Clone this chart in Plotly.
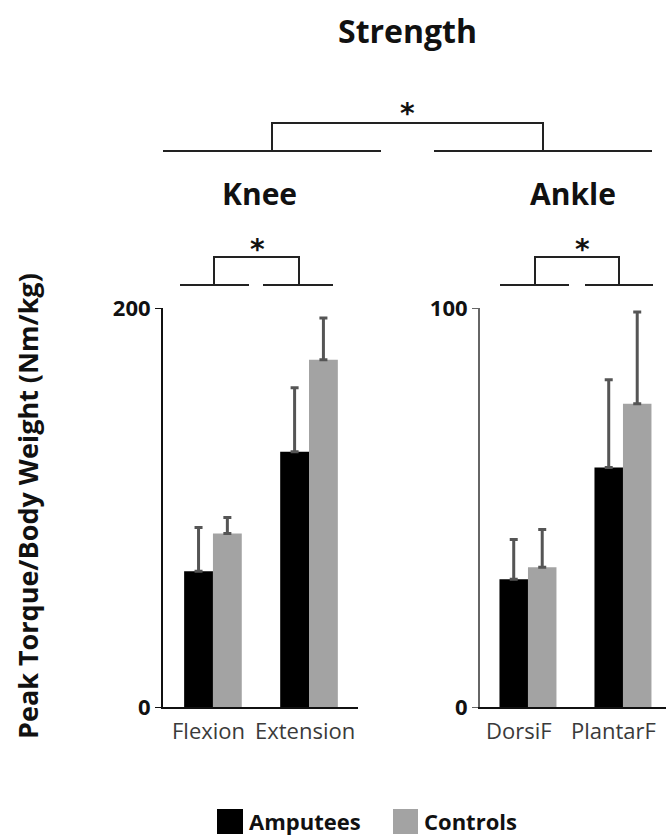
import plotly.graph_objects as go

# Peak torque normalised to body weight (Nm/kg), mean and SD
knee_moves = ["Flexion", "Extension"]
knee_amputees = [68, 128]
knee_amputees_sd = [22, 32]
knee_controls = [87, 174]
knee_controls_sd = [8, 21]

ankle_moves = ["DorsiF", "PlantarF"]
ankle_amputees = [32, 60]
ankle_amputees_sd = [10, 22]
ankle_controls = [35, 76]
ankle_controls_sd = [9.5, 23]

knee_ticks = [0, 200]
ankle_ticks = [0, 100]

BLACK = "#000000"
GREY = "#a3a3a3"
ERR = "#555555"
FONT = "Open Sans"

W, H = 666, 836


def px(x):
    return x / W


def py(y):
    return 1 - y / H


def err(values):
    return dict(type="data", symmetric=False, array=values, arrayminus=[0] * len(values),
                color=ERR, thickness=3, width=4)


fig = go.Figure()
fig.add_trace(go.Bar(x=knee_moves, y=knee_amputees, error_y=err(knee_amputees_sd),
                     marker=dict(color=BLACK, line=dict(width=0)), name="Amputees",
                     xaxis="x", yaxis="y", showlegend=False))
fig.add_trace(go.Bar(x=knee_moves, y=knee_controls, error_y=err(knee_controls_sd),
                     marker=dict(color=GREY, line=dict(width=0)), name="Controls",
                     xaxis="x", yaxis="y", showlegend=False))
fig.add_trace(go.Bar(x=ankle_moves, y=ankle_amputees, error_y=err(ankle_amputees_sd),
                     marker=dict(color=BLACK, line=dict(width=0)), name="Amputees",
                     xaxis="x2", yaxis="y2", showlegend=False))
fig.add_trace(go.Bar(x=ankle_moves, y=ankle_controls, error_y=err(ankle_controls_sd),
                     marker=dict(color=GREY, line=dict(width=0)), name="Controls",
                     xaxis="x2", yaxis="y2", showlegend=False))

ydom = [py(707), py(308)]
xcommon = dict(type="category", showline=True, linecolor="#111", linewidth=2,
               ticks="", showgrid=False, zeroline=False, automargin=False,
               showticklabels=False)
ycommon = dict(showline=True, linewidth=2, ticks="outside", ticklen=6,
               showgrid=False, zeroline=False, automargin=False,
               tickfont=dict(family=FONT, size=22, color="#111", weight="bold"))

fig.update_layout(
    width=W, height=H,
    margin=dict(l=0, r=0, t=0, b=0),
    paper_bgcolor="white", plot_bgcolor="white",
    barmode="group", bargap=0.4, bargroupgap=0,
    xaxis=dict(domain=[px(163), px(358)], range=[-0.52, 1.51], anchor="y", **xcommon),
    xaxis2=dict(domain=[px(480), 1.0], range=[-0.505, 1.453], anchor="y2", **xcommon),
    yaxis=dict(domain=ydom, range=[0, 200], tickvals=knee_ticks, anchor="x",
               linecolor="#111", tickcolor="#111", **ycommon),
    yaxis2=dict(domain=ydom, range=[0, 100], tickvals=ankle_ticks, anchor="x2",
                linecolor="#666", tickcolor="#666", **ycommon),
)

shapes = []
LINE = dict(color="#222", width=2)


def hline(x0, x1, y):
    shapes.append(dict(type="line", xref="paper", yref="paper",
                       x0=px(x0), x1=px(x1), y0=py(y), y1=py(y), line=LINE))


def bracket(xa, xb, base, top):
    shapes.append(dict(type="path", xref="paper", yref="paper",
                       path=f"M {px(xa)} {py(base)} L {px(xa)} {py(top)} L {px(xb)} {py(top)} L {px(xb)} {py(base)}",
                       line=LINE))


# joint-level comparison
hline(163, 381, 151)
hline(434, 652, 151)
bracket(272, 543, 151, 123)
# knee and ankle movement comparisons
hline(180, 249, 285)
hline(263, 333, 285)
bracket(214, 299, 285, 257)
hline(500, 569, 285)
hline(585, 653, 285)
bracket(535, 619, 285, 257)

# legend swatches
shapes.append(dict(type="rect", xref="paper", yref="paper", x0=px(217), x1=px(243),
                   y0=py(834), y1=py(809), fillcolor=BLACK, line=dict(width=0)))
shapes.append(dict(type="rect", xref="paper", yref="paper", x0=px(393), x1=px(418),
                   y0=py(834), y1=py(809), fillcolor=GREY, line=dict(width=0)))

annotations = []


def text(s, x, y, size, bold=True, color="#111", xanchor="center", angle=0, family=FONT):
    annotations.append(dict(text=s, x=px(x), y=py(y), xref="paper", yref="paper",
                            showarrow=False, xanchor=xanchor, yanchor="middle",
                            textangle=angle,
                            font=dict(family=family, size=size, color=color,
                                      weight="bold" if bold else "normal")))


# category labels under each panel
for xref, cats, shift in (("x", knee_moves, -4), ("x2", ankle_moves, -9)):
    for c in cats:
        annotations.append(dict(text=c, x=c, y=py(730), xref=xref, yref="paper",
                                showarrow=False, xanchor="center", yanchor="middle",
                                xshift=shift,
                                font=dict(family=FONT, size=22, color="#3a3a3a")))

text("Strength", 407, 30, 32)
text("Knee", 259, 193, 30)
text("Ankle", 573, 193, 30)
text("*", 407, 114, 28, family="DejaVu Sans")
text("*", 257, 249, 28, family="DejaVu Sans")
text("*", 582, 249, 28, family="DejaVu Sans")
text("Peak Torque/Body Weight (Nm/kg)", 27, 506, 27, angle=-90)
text("Amputees", 247, 821, 22, xanchor="left")
text("Controls", 422, 821, 22, xanchor="left")

fig.update_layout(shapes=shapes, annotations=annotations)

fig.write_html("out.html")
